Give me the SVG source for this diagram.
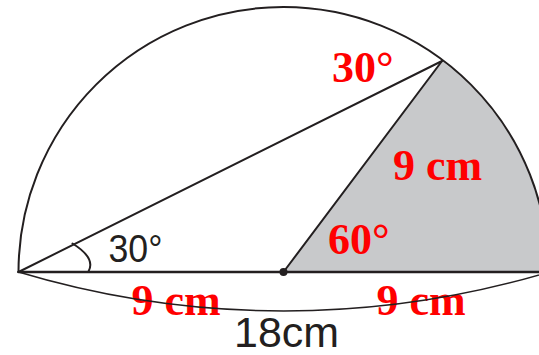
<svg xmlns="http://www.w3.org/2000/svg" width="539" height="355" viewBox="0 0 539 355">
<style>
.ln{fill:none;stroke:#231f20;stroke-width:2;stroke-linecap:round;stroke-linejoin:round}
.thin{fill:none;stroke:#231f20;stroke-width:1.4}
.blk{font-family:"Liberation Sans",Arial,sans-serif;fill:#231f20}
.red{font-family:"Liberation Serif","Times New Roman",serif;font-weight:bold;fill:#ff0000;font-size:44px}
</style>
<rect width="539" height="355" fill="#fff"/>
<g id="sector">
<path d="M283.5,272 L442,61 A265,265 0 0 1 548.5,272 Z" fill="#c8c9cb"/>
</g>
<g id="labels">
<text class="blk" x="108.5" y="261.5" font-size="39" textLength="54" lengthAdjust="spacingAndGlyphs">30°</text>
<text class="blk" x="234" y="346.5" font-size="42" textLength="105" lengthAdjust="spacingAndGlyphs">18cm</text>
<text class="red" x="332" y="81.5">30°</text>
<text class="red" x="393" y="180">9 cm</text>
<text class="red" x="328" y="254">60°</text>
<text class="red" x="131.5" y="315">9 cm</text>
<text class="red" x="376.5" y="315">9 cm</text>
</g>
<g id="connectors">
<path class="ln" d="M18.5,272 A265,265 0 0 1 548.5,272"/>
<path class="ln" d="M18.5,272 L442,61"/>
<path class="ln" d="M283.5,272 L442,61"/>
<path class="ln" d="M18.5,272 L545,272" style="stroke-width:2.6"/>
<path class="ln" d="M72.5,243.5 Q96,258 88.5,271.5"/>
<path class="thin" d="M18.5,272 A923,923 0 0 0 549,272"/>
</g>
<g id="center">
<circle cx="283.5" cy="272" r="4" fill="#231f20"/>
</g>
</svg>
